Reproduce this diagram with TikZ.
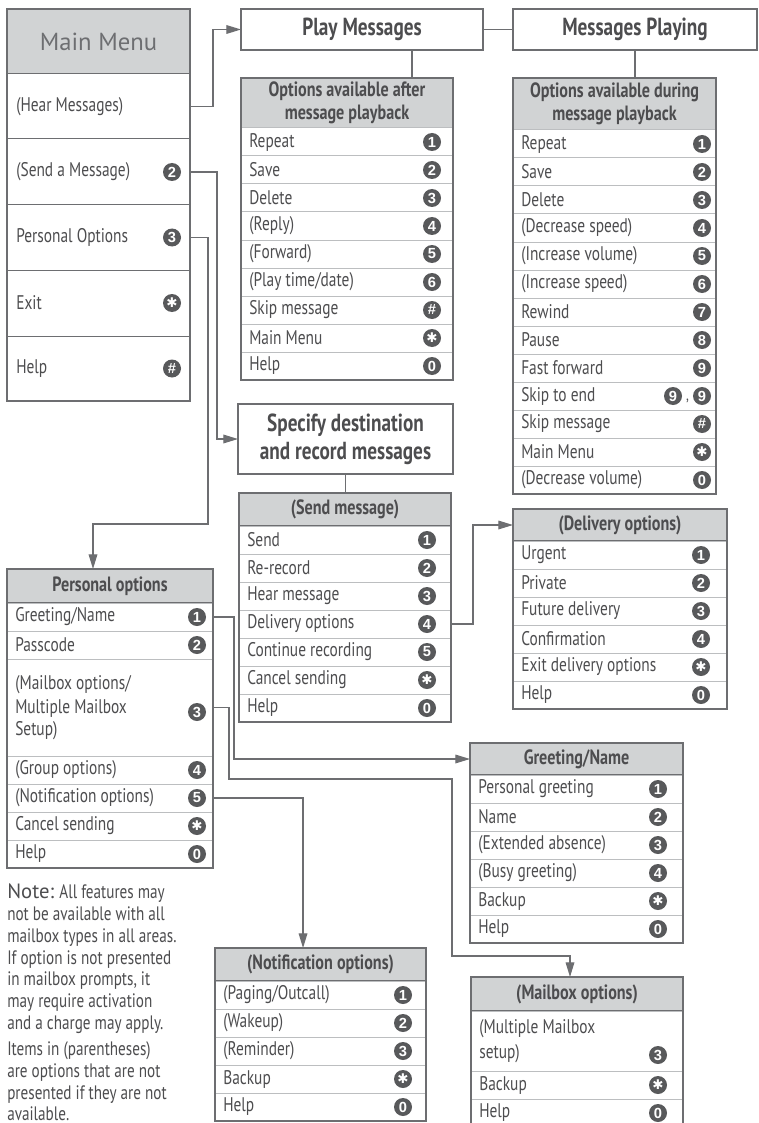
\documentclass[tikz,border=0pt]{standalone}
\usepackage{fontspec}
\setmainfont{PT Sans}
\newfontfamily\cond{PT Sans}[FakeStretch=0.78]
\newfontfamily\bdg{Liberation Sans}
\newfontfamily\dvs{DejaVu Sans}
\usetikzlibrary{arrows.meta}
\definecolor{txt}{HTML}{4D4D4F}
\definecolor{bord}{HTML}{6D6E71}
\definecolor{sep}{HTML}{BCBEC0}
\definecolor{hdfill}{HTML}{D1D3D4}
\definecolor{bfill}{HTML}{58595B}
\newcommand\kstar{{\dvs\fontsize{10}{10}\selectfont ✱}}
\newcommand\bx{0}
\newcommand\rowpad{8}
\tikzset{
  rowcell/.style={draw=sep, fill=white, line width=0.75pt, anchor=north west, inner sep=0pt, outer sep=0pt},
  rowtext/.style={anchor=west, inner sep=0pt, align=left, text=txt, font=\cond\fontsize{14.8}{16.5}\selectfont},
  badge/.style={circle, fill=bfill, minimum size=13.5pt, inner sep=0pt, text=white, font=\bdg\bfseries\fontsize{11}{11}\selectfont},
  hdrcell/.style={draw=bord, fill=hdfill, line width=0.9pt, anchor=north west, inner sep=0pt, outer sep=0pt, align=center, text=txt, font=\cond\bfseries\fontsize{15.5}{17.5}\selectfont},
  titlebox/.style={draw=bord, fill=white, line width=0.9pt, anchor=north west, inner sep=0pt, outer sep=0pt, align=center, text=txt, font=\cond\bfseries\fontsize{18.5}{21}\selectfont},
  frame/.style={draw=bord, line width=0.9pt},
  conn/.style={draw=bord, line width=0.9pt},
  arr/.style={conn, -{Triangle[length=11pt,width=6.5pt]}},
  notetext/.style={anchor=north west, inner sep=0pt, align=left, text=txt, font=\cond\fontsize{14.6}{16.3}\selectfont}
}
\newcommand\orow[7]{%
  \node[rowcell, minimum width={(#3-#2)*0.75pt}, minimum height={(#5-#4)*0.75pt}] (#1) at (#2,#4) {};
  \node[rowtext] (#1-t) at ({#2+\rowpad},{(#4+#5)/2}) {#6};
  \if\relax\detokenize{#7}\relax\else
  \node[badge] (#1-b) at (\bx,{(#4+#5)/2}) {#7};\fi
}
\newcommand\ohdr[6]{%
  \node[hdrcell, minimum width={(#3-#2)*0.75pt}, minimum height={(#5-#4)*0.75pt}] (#1) at (#2,#4) {#6};
}
\begin{document}
\begin{tikzpicture}[x=0.75pt,y=-0.75pt]
\useasboundingbox (0,0) rectangle (758,1123);
\fill[white] (0,0) rectangle (758,1123);

% ---------------- Main Menu ----------------
\renewcommand\bx{172}
\renewcommand\rowpad{9}
\node[hdrcell, font=\fontsize{18.5}{20}\selectfont, text=bord, minimum width={183*0.75pt}, minimum height={65*0.75pt}] (mm) at (7,9) {Main Menu};
\tikzset{rowcell/.append style={draw=bord}}
\orow{mm1}{7}{190}{74}{139}{(Hear Messages)}{}
\orow{mm2}{7}{190}{139}{205}{(Send a Message)}{2}
\orow{mm3}{7}{190}{205}{270}{Personal Options}{3}
\orow{mm4}{7}{190}{270}{336}{Exit}{\kstar}
\orow{mm5}{7}{190}{336}{401}{Help}{\#}
\tikzset{rowcell/.append style={draw=sep}}
\draw[frame] (7,9) rectangle (190,401);
\renewcommand\rowpad{8}

% ---------------- Title boxes ----------------
\node[titlebox, minimum width={242*0.75pt}, minimum height={41*0.75pt}] (play) at (241,9) {Play Messages};
\node[titlebox, minimum width={244*0.75pt}, minimum height={41*0.75pt}] (playing) at (513,9) {Messages Playing};
\node[titlebox, minimum width={215*0.75pt}, minimum height={70*0.75pt}] (spec) at (238,404) {Specify destination\\and record messages};

% ---------------- After playback ----------------
\renewcommand\bx{432}
\ohdr{ah}{241}{453}{78}{128}{Options available after\\message playback}
\orow{a1}{241}{453}{128}{156}{Repeat}{1}
\orow{a2}{241}{453}{156}{184}{Save}{2}
\orow{a3}{241}{453}{184}{212}{Delete}{3}
\orow{a4}{241}{453}{212}{240}{(Reply)}{4}
\orow{a5}{241}{453}{240}{268}{(Forward)}{5}
\orow{a6}{241}{453}{268}{296}{(Play time/date)}{6}
\orow{a7}{241}{453}{296}{324}{Skip message}{\#}
\orow{a8}{241}{453}{324}{352}{Main Menu}{\kstar}
\orow{a9}{241}{453}{352}{380}{Help}{0}
\draw[frame] (241,78) rectangle (453,380);

% ---------------- During playback ----------------
\renewcommand\bx{702}
\ohdr{dh}{513}{716}{78}{130}{Options available during\\message playback}
\orow{d1}{513}{716}{130}{158}{Repeat}{1}
\orow{d2}{513}{716}{158}{186}{Save}{2}
\orow{d3}{513}{716}{186}{214}{Delete}{3}
\orow{d4}{513}{716}{214}{242}{(Decrease speed)}{4}
\orow{d5}{513}{716}{242}{270}{(Increase volume)}{5}
\orow{d6}{513}{716}{270}{298}{(Increase speed)}{6}
\orow{d7}{513}{716}{298}{326}{Rewind}{7}
\orow{d8}{513}{716}{326}{354}{Pause}{8}
\orow{d9}{513}{716}{354}{382}{Fast forward}{9}
\orow{d10}{513}{716}{382}{410}{Skip to end}{9}
\node[badge] (d10-b2) at (673,396) {9};
\node[inner sep=0pt, text=txt, font=\cond\fontsize{12}{12}\selectfont] (d10-c) at (687.5,401) {,};
\orow{d11}{513}{716}{410}{438}{Skip message}{\#}
\orow{d12}{513}{716}{438}{466}{Main Menu}{\kstar}
\orow{d13}{513}{716}{466}{494}{(Decrease volume)}{0}
\draw[frame] (513,78) rectangle (716,494);

% ---------------- Send message ----------------
\renewcommand\bx{427}
\ohdr{sh}{239}{451}{493}{526}{(Send message)}
\orow{s1}{239}{451}{526}{554}{Send}{1}
\orow{s2}{239}{451}{554}{582}{Re-record}{2}
\orow{s3}{239}{451}{582}{610}{Hear message}{3}
\orow{s4}{239}{451}{610}{638}{Delivery options}{4}
\orow{s5}{239}{451}{638}{666}{Continue recording}{5}
\orow{s6}{239}{451}{666}{694}{Cancel sending}{\kstar}
\orow{s7}{239}{451}{694}{722}{Help}{0}
\draw[frame] (239,493) rectangle (451,722);

% ---------------- Delivery options ----------------
\renewcommand\bx{701}
\ohdr{vh}{513}{727}{509}{541}{(Delivery options)}
\orow{v1}{513}{727}{541}{569}{Urgent}{1}
\orow{v2}{513}{727}{569}{597}{Private}{2}
\orow{v3}{513}{727}{597}{625}{Future delivery}{3}
\orow{v4}{513}{727}{625}{653}{Confirmation}{4}
\orow{v5}{513}{727}{653}{681}{Exit delivery options}{\kstar}
\orow{v6}{513}{727}{681}{709}{Help}{0}
\draw[frame] (513,509) rectangle (727,709);

% ---------------- Personal options ----------------
\renewcommand\bx{197}
\ohdr{ph}{7}{213}{569}{603}{Personal options}
\orow{p1}{7}{213}{603}{631}{Greeting/Name}{1}
\orow{p2}{7}{213}{631}{659}{Passcode}{2}
\orow{p3}{7}{213}{659}{756}{(Mailbox options/\\[2pt]Multiple Mailbox\\Setup)}{}
\node[badge] (p3-b) at (197,712) {3};
\orow{p4}{7}{213}{756}{784}{(Group options)}{4}
\orow{p5}{7}{213}{784}{812}{(Notification options)}{5}
\orow{p6}{7}{213}{812}{840}{Cancel sending}{\kstar}
\orow{p7}{7}{213}{840}{868}{Help}{0}
\draw[frame] (7,569) rectangle (213,868);

% ---------------- Greeting/Name ----------------
\renewcommand\bx{658}
\ohdr{gh}{470}{683}{743}{775}{Greeting/Name}
\orow{g1}{470}{683}{775}{803}{Personal greeting}{1}
\orow{g2}{470}{683}{803}{831}{Name}{2}
\orow{g3}{470}{683}{831}{859}{(Extended absence)}{3}
\orow{g4}{470}{683}{859}{887}{(Busy greeting)}{4}
\orow{g5}{470}{683}{887}{915}{Backup}{\kstar}
\orow{g6}{470}{683}{915}{943}{Help}{0}
\draw[frame] (470,743) rectangle (683,943);

% ---------------- Mailbox options ----------------
\renewcommand\bx{658}
\ohdr{mh}{471}{683}{977}{1011}{(Mailbox options)}
\orow{m1}{471}{683}{1011}{1071}{(Multiple Mailbox\\[2.5pt]setup)}{}
\node[badge] (m1-b) at (658,1055) {3};
\orow{m2}{471}{683}{1071}{1099}{Backup}{\kstar}
\orow{m3}{471}{683}{1099}{1127}{Help}{0}
\draw[frame] (471,977) rectangle (683,1127);

% ---------------- Notification options ----------------
\renewcommand\bx{403}
\ohdr{nh}{215}{426}{948}{981}{(Notification options)}
\orow{n1}{215}{426}{981}{1009}{(Paging/Outcall)}{1}
\orow{n2}{215}{426}{1009}{1037}{(Wakeup)}{2}
\orow{n3}{215}{426}{1037}{1065}{(Reminder)}{3}
\orow{n4}{215}{426}{1065}{1093}{Backup}{\kstar}
\orow{n5}{215}{426}{1093}{1121}{Help}{0}
\draw[frame] (215,948) rectangle (426,1121);

% ---------------- Note ----------------
\node[notetext] (note) at (7,884) {{\rmfamily\fontsize{15.5}{16.3}\selectfont Note:} All features may\\
not be available with all\\
mailbox types in all areas.\\
If option is not presented\\
in mailbox prompts, it\\
may require activation\\
and a charge may apply.\\[3.5pt]
Items in (parentheses)\\
are options that are not\\
presented if they are not\\
available.};

% ---------------- Connectors ----------------
\draw[arr] (mm1.east) -- ++(23,0) |- (play.west);
\draw[conn] (play.east) -- (playing.west);
\draw[conn] ([xshift=37.5pt]play.south) -- ([xshift=37.5pt]play.south |- ah.north);
\draw[conn] (playing.south) -- (playing.south |- dh.north);
\draw[arr] (mm2.east) -- ++(27,0) |- (spec.west);
\draw[conn] (spec.south) -- (spec.south |- sh.north);
\draw[arr] (mm3.east) -- ++(18,0) |- (93,524) -- (93,524 |- ph.north);
\draw[arr] (s4.east) -- ++(22,0) |- (vh.west);
\draw[arr] (p1.east) -- ++(21,0) |- (gh.west);
\draw[arr] (p3.east) -- ++(16,0) |- (452,779) |- (570,956) -- (570,956 |- mh.north);
\draw[arr] (p5.east) -| ([xshift=-13.1pt]nh.north);
\end{tikzpicture}
\end{document}
